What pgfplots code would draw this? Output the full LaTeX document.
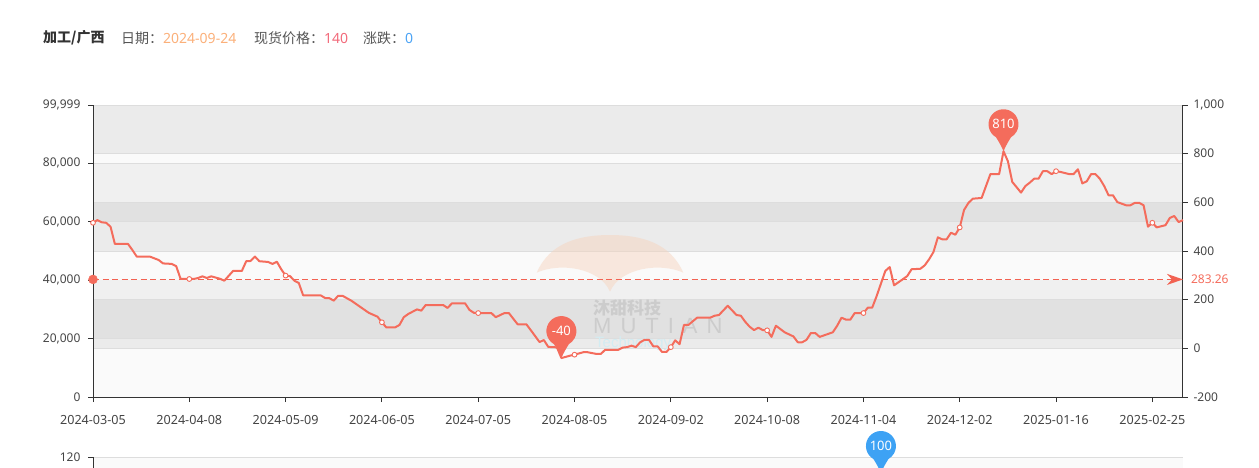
\documentclass[border=0pt]{standalone}
\usepackage{fontspec}
\setmainfont{Noto Sans}
\newfontfamily\cjk{Noto Sans CJK SC}
\newfontfamily\wmfont{Liberation Sans}
\usepackage{pgfplots}
\pgfplotsset{compat=1.18}
\usepackage{pgfplotstable}
\usetikzlibrary{arrows.meta}

\definecolor{series}{RGB}{244,108,92}
\definecolor{avgc}{RGB}{242,98,82}
\definecolor{bandL}{HTML}{FAFAFA}
\definecolor{bandA}{HTML}{EBEBEB}
\definecolor{bandB}{HTML}{F0F0F0}
\definecolor{bandD}{HTML}{E1E1E1}
\definecolor{gridc}{HTML}{DDDDDD}
\definecolor{axisc}{HTML}{333333}
\definecolor{labc}{HTML}{444444}
\definecolor{titlec}{HTML}{333333}
\definecolor{keyc}{HTML}{555555}
\definecolor{dateor}{HTML}{FBB07A}
\definecolor{pricered}{HTML}{F26A7A}
\definecolor{chgblue}{HTML}{4BA3F5}
\definecolor{pinblue}{HTML}{3DA2F4}
\definecolor{wmorange}{HTML}{F7D2BA}
\definecolor{wmgrey}{HTML}{CCCCCC}
\definecolor{wmblue}{HTML}{D3ECF2}

\newcommand\tf{\fontsize{12}{14}\selectfont}
\newcommand\xtf{\fontsize{12.6}{14}\selectfont}

\pgfdeclareplotmark{pin}{%
  \pgfpathmoveto{\pgfpointorigin}%
  \pgfpathcurveto{\pgfpoint{-2pt}{5pt}}{\pgfpoint{-5pt}{10pt}}{\pgfpoint{-7.5pt}{14pt}}%
  \pgfpatharc{240}{-60}{15pt}%
  \pgfpathcurveto{\pgfpoint{5pt}{10pt}}{\pgfpoint{2pt}{5pt}}{\pgfpointorigin}%
  \pgfpathclose
  \pgfusepathqfill
}

\pgfplotstableread{
x y
0 516
1 527
2 518
3 516
4 500
5 429
8 429
9 404
10 377
13 377
15 363
16 349
18 347
19 338
20 286
22 285
23 285
24 289
25 296
26 289
27 296
29 286
30 278
32 318
34 318
35 358
36 359
37 377
38 358
40 355
41 347
42 356
43 325
44 299
45 297
46 278
47 269
48 218
52 218
53 207
54 206
55 196
56 216
57 216
59 196
61 171
63 146
65 130
66 107
67 86
69 86
70 96
71 128
72 141
74 160
75 155
76 178
80 178
81 166
82 185
85 185
86 158
87 146
88 145
91 145
92 128
94 145
95 145
97 99
99 99
100 75
102 26
103 34
104 6
106 4
107 -40
109 -30
110 -26
112 -16
113 -16
115 -23
116 -23
117 -6
120 -6
121 3
122 5
123 11
124 5
125 25
126 35
127 35
128 8
129 8
130 -15
131 -15
132 5
133 33
134 17
135 96
136 96
138 126
141 126
142 134
143 137
144 156
145 175
147 137
148 134
149 109
150 89
151 75
152 85
153 75
154 74
155 47
156 93
158 66
160 49
161 25
162 25
163 35
164 63
165 63
166 47
169 66
170 93
171 126
172 118
173 118
174 145
176 145
177 167
178 167
179 214
181 318
182 334
183 259
185 284
186 297
187 325
189 327
190 341
191 366
192 396
193 456
194 448
195 448
196 475
197 467
198 497
199 569
200 598
201 615
203 618
205 716
207 716
208 810
209 769
210 684
212 640
213 667
214 681
215 697
216 697
217 728
218 728
219 716
220 728
221 725
223 716
224 716
225 736
226 678
227 686
228 716
229 716
230 697
231 667
232 629
233 629
234 601
236 588
237 588
238 598
239 598
240 588
241 500
242 516
243 497
245 506
246 536
247 544
248 519
249 527
}\pricedata

\begin{document}
\begin{tikzpicture}[x=1pt,y=1pt]

% ---------- title ----------
\node[anchor=west, inner sep=0, text=titlec, font=\fontsize{14}{16}\selectfont\cjk\bfseries] at (43,-38) {加工/广西};
\node[anchor=west, inner sep=0, font=\fontsize{14}{16}\selectfont] at (121,-38) {\textcolor{keyc}{\cjk 日期：}\textcolor{dateor}{2024-09-24}};
\node[anchor=west, inner sep=0, font=\fontsize{14}{16}\selectfont] at (254,-38) {\textcolor{keyc}{\cjk 现货价格：}\textcolor{pricered}{140}};
\node[anchor=west, inner sep=0, font=\fontsize{14}{16}\selectfont] at (363,-38) {\textcolor{keyc}{\cjk 涨跌：}\textcolor{chgblue}{0}};

% ---------- axis A: bands, left axis, x axis ----------
\begin{axis}[
  at={(93pt,-397pt)}, anchor=south west,
  scale only axis, width=1090pt, height=292pt,
  xmin=0, xmax=249, ymin=-200, ymax=1000,
  axis x line*=bottom, axis y line*=left,
  axis line style={axisc, line width=1pt},
  axis on top,
  xtick={0,22,44,66,88,110,132,154,176,198,220,242},
  xticklabels={2024-03-05,2024-04-08,2024-05-09,2024-06-05,2024-07-05,2024-08-05,2024-09-02,2024-10-08,2024-11-04,2024-12-02,2025-01-16,2025-02-25},
  ytick={-200,40,280,520,760,1000},
  yticklabels={0,{20,000},{40,000},{60,000},{80,000},{99,999}},
  tick style={axisc, line width=1pt},
  major tick length=5pt, tick align=outside,
  ticklabel style={font=\tf, text=labc},
  xticklabel style={anchor=north, yshift=-10pt, font=\xtf},
  yticklabel style={anchor=east, xshift=-4pt},
]
\fill[bandL] (axis cs:0,-200) rectangle (axis cs:249,0);
\fill[bandA] (axis cs:0,0) rectangle (axis cs:249,40);
\fill[bandD] (axis cs:0,40) rectangle (axis cs:249,200);
\fill[bandB] (axis cs:0,200) rectangle (axis cs:249,280);
\fill[bandL] (axis cs:0,280) rectangle (axis cs:249,400);
\fill[bandA] (axis cs:0,400) rectangle (axis cs:249,520);
\fill[bandD] (axis cs:0,520) rectangle (axis cs:249,600);
\fill[bandB] (axis cs:0,600) rectangle (axis cs:249,760);
\fill[bandL] (axis cs:0,760) rectangle (axis cs:249,800);
\fill[bandA] (axis cs:0,800) rectangle (axis cs:249,1000);
\draw[gridc, line width=0.8pt] (axis cs:0,0) -- (axis cs:249,0);
\draw[gridc, line width=0.8pt] (axis cs:0,40) -- (axis cs:249,40);
\draw[gridc, line width=0.8pt] (axis cs:0,200) -- (axis cs:249,200);
\draw[gridc, line width=0.8pt] (axis cs:0,400) -- (axis cs:249,400);
\draw[gridc, line width=0.8pt] (axis cs:0,520) -- (axis cs:249,520);
\draw[gridc, line width=0.8pt] (axis cs:0,600) -- (axis cs:249,600);
\draw[gridc, line width=0.8pt] (axis cs:0,760) -- (axis cs:249,760);
\draw[gridc, line width=0.8pt] (axis cs:0,800) -- (axis cs:249,800);
\draw[gridc, line width=0.8pt] (axis cs:0,1000) -- (axis cs:249,1000);
\end{axis}

% ---------- watermark ----------
\fill[wmorange, opacity=0.45] (536.7,-272.7) .. controls (560,-262) and (600,-268) .. (610,-291.7)
   .. controls (620,-268) and (660,-262) .. (683.3,-272.7)
   .. controls (670,-242) and (640,-235) .. (610,-235)
   .. controls (580,-235) and (550,-242) .. (536.7,-272.7) -- cycle;
\node[anchor=west, inner sep=0, text=wmgrey, font=\fontsize{17}{17}\selectfont\cjk\bfseries] at (593,-308.5) {沐甜科技};
\node[anchor=west, inner sep=0, text=wmgrey, font=\fontsize{22}{22}\selectfont\wmfont] at (593,-326) {M\kern9pt U\kern9pt T\kern9pt I\kern9pt A\kern9pt N};
\node[anchor=west, inner sep=0, text=wmblue, font=\fontsize{15}{15}\selectfont\wmfont] at (595,-344) {Technology};

% ---------- axis B: series, right axis ----------
\begin{axis}[
  at={(93pt,-397pt)}, anchor=south west,
  scale only axis, width=1090pt, height=292pt,
  xmin=0, xmax=249, ymin=-200, ymax=1000,
  axis y line*=right, axis x line=none,
  axis line style={axisc, line width=1pt},
  ytick={-200,0,200,400,600,800,1000},
  yticklabels={-200,0,200,400,600,800,{1,000}},
  tick style={axisc, line width=1pt},
  major tick length=5pt, tick align=outside,
  ticklabel style={font=\tf, text=labc},
  yticklabel style={anchor=west, xshift=2pt},
  clip=false,
]
% average line
\addplot[avgc, line width=1.5pt, dash pattern=on 6pt off 3.5pt, mark=none,
  -{Stealth[length=16pt, width=11pt, inset=5pt]}]
  coordinates {(0,283.26) (249,283.26)}
  node[pos=1, anchor=west, xshift=4pt, font=\tf, text=series] {283.26};
\addplot[series, only marks, mark=*, mark size=4.5pt, mark options={fill=series, draw=series}]
  coordinates {(0,283.26)};
% price line
\addplot[color=series, line width=2pt, line join=round, mark=none] table[x=x, y=y] {\pricedata};
% hollow markers
\addplot[only marks, mark=*, mark size=2.4pt, mark options={fill=white, draw=series, line width=0.9pt}]
  coordinates {(0,516) (22,285) (44,299) (66,107) (88,145) (110,-26) (132,5) (154,74) (176,145) (198,497) (220,728) (242,516)};
% pins
\addplot[only marks, mark=pin, mark options={fill=series, draw=none},
  nodes near coords, point meta=explicit symbolic,
  every node near coord/.append style={anchor=center, yshift=27pt, text=white, font=\fontsize{13}{13}\selectfont\bfseries}]
  coordinates {(107,-40) [-40] (208,810) [810]};
\end{axis}

% ---------- axis C: second chart (cut off) ----------
\begin{axis}[
  at={(93pt,-457pt)}, anchor=north west,
  scale only axis, width=1090pt, height=176pt,
  xmin=0, xmax=249, ymin=-100, ymax=120,
  axis y line*=left, axis x line=none,
  axis line style={axisc, line width=1pt},
  ytick={120}, yticklabels={120},
  tick style={axisc, line width=1pt},
  major tick length=5pt, tick align=outside,
  ticklabel style={font=\tf, text=labc},
  yticklabel style={anchor=east, xshift=-4pt},
  axis on top,
  clip=false,
]
\fill[bandL] (axis cs:0,-100) rectangle (axis cs:249,120);
\draw[gridc, line width=1pt] (axis cs:0,120) -- (axis cs:249,120);
\addplot[only marks, mark=pin, mark options={fill=pinblue, draw=none},
  nodes near coords, point meta=explicit symbolic,
  every node near coord/.append style={anchor=center, yshift=27pt, text=white, font=\fontsize{13}{13}\selectfont\bfseries}]
  coordinates {(180,100) [100]};
\end{axis}

\pgfresetboundingbox
\path[use as bounding box] (0,0) rectangle (1259,-467);
\end{tikzpicture}
\end{document}
